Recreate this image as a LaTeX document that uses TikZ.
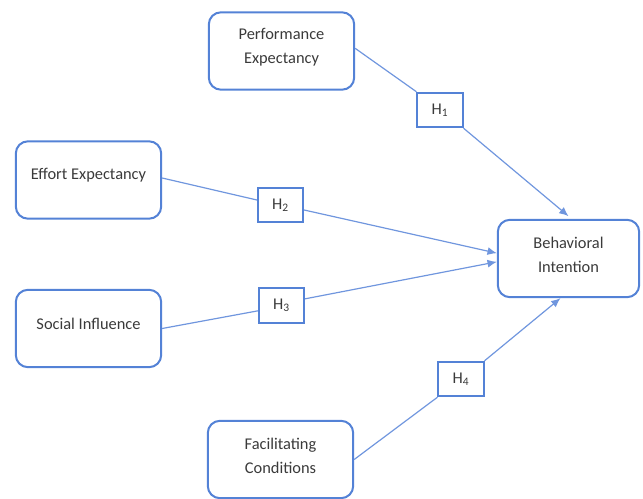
\documentclass[tikz,border=0pt]{standalone}
\usepackage{fontspec}
\setmainfont{Carlito}
\usetikzlibrary{arrows.meta}
\definecolor{boxblue}{RGB}{84,130,214}
\definecolor{linkblue}{RGB}{112,150,222}
\definecolor{txtgray}{RGB}{58,58,58}

\begin{document}
\begin{tikzpicture}[x=0.75pt, y=-0.75pt,
		construct/.style={draw=boxblue, line width=1.5pt, rounded corners=9pt, minimum width=109pt, minimum height=58pt},
		caption/.style={align=center, text=txtgray, font=\fontsize{12.3}{18}\selectfont},
		hyp/.style={draw=boxblue, line width=1.4pt, minimum width=34pt, minimum height=26pt, inner sep=0pt, text=txtgray, font=\fontsize{12.3}{15}\selectfont},
		link/.style={draw=linkblue, line width=0.9pt},
		tip/.style={-{Latex[length=7pt,width=6pt]}}]
			%%%%% FRAME %%%%%
			\useasboundingbox (0,0) rectangle (643,499);
			
			%%%%% CONSTRUCTS %%%%%
			\node[construct] (pe) at (281.5,51) {};
			\node[caption] (pe-text) at ([yshift=3pt]pe.center) {Performance\\Expectancy};
			
			\node[construct] (ee) at (88.5,180) {};
			\node[caption] (ee-text) at ([yshift=3.5pt]ee.center) {Effort Expectancy};
			
			\node[construct] (si) at (88.5,328.5) {};
			\node[caption] (si-text) at ([yshift=3.5pt]si.center) {Social Influence};
			
			\node[construct] (fc) at (280.5,459.5) {};
			\node[caption] (fc-text) at ([yshift=3pt]fc.center) {Facilitating\\Conditions};
			
			\node[construct, minimum width=106pt] (bi) at (568.5,258.5) {};
			\node[caption] (bi-text) at ([yshift=3pt]bi.center) {Behavioral\\Intention};
			
			%%%%% HYPOTHESES %%%%%
			\node[hyp] (h1) at (440,110) {H\textsubscript{1}};
			\node[hyp] (h2) at (280.5,205) {H\textsubscript{2}};
			\node[hyp] (h3) at (281.5,305.5) {H\textsubscript{3}};
			\node[hyp] (h4) at (461,379) {H\textsubscript{4}};
			
			%%%%% PATHS %%%%%
			\draw[link] ([yshift=2pt]pe.east) -- (h1.north west);
			\draw[link, tip] (h1.south east) -- ([yshift=2pt]bi.north);
			
			\draw[link] ([yshift=1.5pt]ee.east) -- ([yshift=3.75pt]h2.west);
			\draw[link, tip] ([yshift=-3.75pt]h2.east) -- ([yshift=4pt]bi.west);
			
			\draw[link] (si.east) -- ([yshift=-4pt]h3.west);
			\draw[link, tip] ([yshift=5pt]h3.east) -- ([yshift=-2.5pt]bi.west);
			
			\draw[link] (fc.east) -- (h4.south west);
			\draw[link, tip] (h4.north east) -- ([xshift=-6pt]bi.south);
			
			%%%%% END %%%%%
		\end{tikzpicture}
\end{document}
